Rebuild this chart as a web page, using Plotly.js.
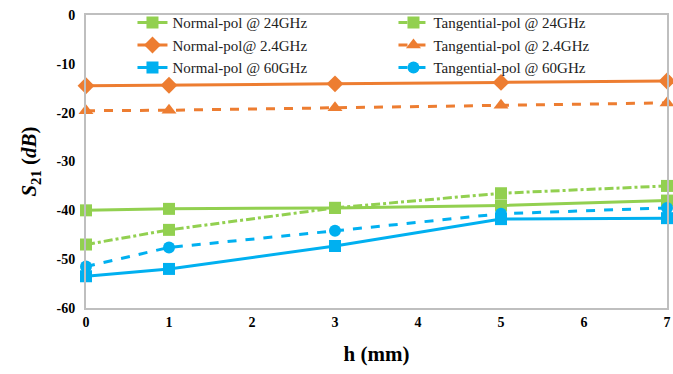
<!DOCTYPE html>
<html><head><meta charset="utf-8">
<script src="https://cdn.plot.ly/plotly-3.0.1.min.js"></script>
<style>body{margin:0;padding:0;background:#fff}#chart{width:673px;height:374px}</style>
</head><body><div id="chart"></div>
<script>
const h = [0, 1, 3, 5, 7];
const normal24 = [-40, -39.7, -39.5, -39, -38];
const tang24 = [-47, -44, -39.5, -36.5, -35];
const normal2_4 = [-14.5, -14.4, -14.1, -13.8, -13.5];
const tang2_4 = [-19.6, -19.5, -19, -18.5, -18];
const normal60 = [-53.5, -52, -47.3, -41.8, -41.6];
const tang60 = [-51.5, -47.6, -44.2, -40.7, -39.5];
const names = ["Normal-pol @ 24GHz", "Tangential-pol @ 24GHz", "Normal-pol@ 2.4GHz", "Tangential-pol @ 2.4GHz", "Normal-pol @ 60GHz", "Tangential-pol @ 60GHz"];
const yTicks = [0, -10, -20, -30, -40, -50, -60];
const xTicks = [0, 1, 2, 3, 4, 5, 6, 7];

const serif = "Liberation Serif";
const green = '#92D050', orange = '#ED7D31', blue = '#00B0F0';
function tr(y, name, color, dash, symbol, size) {
  return {x: h, y: y, name: name, type: 'scatter', mode: 'lines+markers', cliponaxis: false,
    line: {color: color, width: 3, dash: dash}, marker: {color: color, symbol: symbol, size: size}};
}
const data = [
  tr(normal24, names[0], green, 'solid', 'square', 12),
  tr(tang24, names[1], green, 'dashdot', 'square', 12),
  tr(normal2_4, names[2], orange, 'solid', 'diamond', 13),
  tr(tang2_4, names[3], orange, 'dash', 'triangle-up', 13),
  tr(normal60, names[4], blue, 'solid', 'square', 12),
  tr(tang60, names[5], blue, 'dash', 'circle', 12)
];
const tickFont = {family: serif, size: 14, color: '#000'};
const layout = {
  width: 673, height: 374,
  font: {family: serif},
  margin: {l: 86, r: 6, t: 13, b: 66},
  paper_bgcolor: '#fff', plot_bgcolor: '#fff',
  showlegend: true,
  legend: {orientation: 'h', x: 0.08, y: 1.03, xanchor: 'left', yanchor: 'top',
    entrywidth: 216, entrywidthmode: 'pixels', traceorder: 'normal',
    font: {family: serif, size: 15, color: '#222'},
    bgcolor: 'rgba(255,255,255,0)', tracegroupgap: 0},
  xaxis: {range: [0, 7], tickvals: xTicks, ticktext: xTicks.map(v => '<b>' + v + '</b>'), showgrid: false, zeroline: false,
    showline: true, linecolor: '#BFBFBF', linewidth: 2, mirror: true, ticks: '', tickfont: tickFont,
    title: {text: '<b>h (mm)</b>', font: {family: serif, size: 21, color: '#000'}, standoff: 18}},
  yaxis: {range: [-60, 0], tickvals: yTicks, ticktext: yTicks.map(v => '<b>' + v + '</b>'), showgrid: false, zeroline: false,
    showline: true, linecolor: '#BFBFBF', linewidth: 2, mirror: true, ticks: '', tickfont: tickFont, ticklabelstandoff: 6,
    title: {text: '<b><i>S</i><sub>21</sub> (<i>dB</i>)</b>', font: {family: serif, size: 21, color: '#000'}, standoff: 14}}
};
Plotly.newPlot('chart', data, layout, {displayModeBar: false, staticPlot: true});
</script></body></html>
